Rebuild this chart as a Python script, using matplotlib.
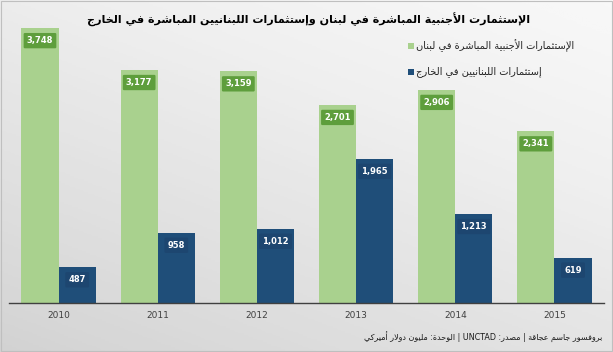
import numpy as np
import matplotlib.pyplot as plt
from matplotlib.patches import Rectangle

# data
years = ["2010", "2011", "2012", "2013", "2014", "2015"]
fdi_in = [3748, 3177, 3159, 2701, 2906, 2341]      # foreign investment into Lebanon
fdi_out = [487, 958, 1012, 1965, 1213, 619]        # Lebanese investment abroad

title_txt = "الإستثمارت الأجنبية المباشرة في لبنان وإستثمارات اللبنانيين المباشرة في الخارج"
legend_in = "الإستثمارات الأجنبية المباشرة في لبنان"
legend_out = "إستثمارات اللبنانيين في الخارج"
footer_txt = "بروفسور جاسم عجاقة | مصدر: UNCTAD | الوحدة: مليون دولار أميركي"

green = "#a9d18e"
green_dark = "#5e9e3c"
blue = "#1f4e79"
blue_dark = "#1d4670"

# --- minimal arabic shaping (matplotlib has no bidi / joining) ---
# char -> (first presentation form, number of forms)
_forms = {
    "ء": (0xFE80, 1), "آ": (0xFE81, 2), "أ": (0xFE83, 2), "ؤ": (0xFE85, 2),
    "إ": (0xFE87, 2), "ئ": (0xFE89, 4), "ا": (0xFE8D, 2), "ب": (0xFE8F, 4),
    "ة": (0xFE93, 2), "ت": (0xFE95, 4), "ث": (0xFE99, 4), "ج": (0xFE9D, 4),
    "ح": (0xFEA1, 4), "خ": (0xFEA5, 4), "د": (0xFEA9, 2), "ذ": (0xFEAB, 2),
    "ر": (0xFEAD, 2), "ز": (0xFEAF, 2), "س": (0xFEB1, 4), "ش": (0xFEB5, 4),
    "ص": (0xFEB9, 4), "ض": (0xFEBD, 4), "ط": (0xFEC1, 4), "ظ": (0xFEC5, 4),
    "ع": (0xFEC9, 4), "غ": (0xFECD, 4), "ف": (0xFED1, 4), "ق": (0xFED5, 4),
    "ك": (0xFED9, 4), "ل": (0xFEDD, 4), "م": (0xFEE1, 4), "ن": (0xFEE5, 4),
    "ه": (0xFEE9, 4), "و": (0xFEED, 2), "ى": (0xFEEF, 2), "ي": (0xFEF1, 4),
}
_lamalef = {"آ": 0xFEF5, "أ": 0xFEF7, "إ": 0xFEF9, "ا": 0xFEFB}


def shape(s):
    # lam-alef ligatures first
    toks = []
    i = 0
    while i < len(s):
        if s[i] == "ل" and i + 1 < len(s) and s[i + 1] in _lamalef:
            toks.append(("LA", s[i + 1]))
            i += 2
        else:
            toks.append(("C", s[i]))
            i += 1

    def nforms(t):
        if t[0] == "LA":
            return 2
        return _forms.get(t[1], (0, 0))[1]

    out = []
    for k, t in enumerate(toks):
        prev_join = k > 0 and nforms(toks[k - 1]) == 4 and nforms(t) > 0
        next_join = (nforms(t) == 4 and k + 1 < len(toks) and nforms(toks[k + 1]) > 0)
        if t[0] == "LA":
            out.append(chr(_lamalef[t[1]] + (1 if prev_join else 0)))
            continue
        c = t[1]
        if c not in _forms:
            out.append(c)
            continue
        base, n = _forms[c]
        if n == 1:
            out.append(chr(base))
        elif n == 2:
            out.append(chr(base + (1 if prev_join else 0)))
        else:
            if prev_join and next_join:
                off = 3
            elif next_join:
                off = 2
            elif prev_join:
                off = 1
            else:
                off = 0
            out.append(chr(base + off))
    # visual order: reverse, keep latin/digit runs left-to-right
    vis = "".join(out)[::-1]
    res, run = [], ""
    for ch in vis:
        if ch.isascii() and ch.isalnum():
            run += ch
        else:
            if run:
                res.append(run[::-1])
                run = ""
            res.append(ch)
    if run:
        res.append(run[::-1])
    return "".join(res)


plt.rcParams["font.family"] = ["DejaVu Sans"]

fig = plt.figure(figsize=(6.13, 3.52), dpi=100)

# background gradient
bg = fig.add_axes([0, 0, 1, 1], zorder=-10)
yy, xx = np.mgrid[0:1:200j, 0:1:300j]
grad = 0.6 * yy + 0.4 * xx
bg.imshow(grad, cmap="Greys_r", vmin=-3.2, vmax=1.25, aspect="auto",
          extent=[0, 1, 0, 1], origin="lower")
bg.set_xlim(0, 1)
bg.set_ylim(0, 1)
bg.axis("off")
bg.add_patch(Rectangle((0.002, 0.003), 0.996, 0.994, fill=False,
                       edgecolor="#bfbfbf", lw=0.8, transform=bg.transAxes))

ax = fig.add_axes([9 / 613, 49 / 352, 595 / 613, 286 / 352])
ax.patch.set_alpha(0)

x = np.arange(len(years))
w = 0.375
b1 = ax.bar(x - w / 2, fdi_in, w, color=green, zorder=2)
b2 = ax.bar(x + w / 2, fdi_out, w, color=blue, zorder=2)

ax.set_xlim(-0.5, len(years) - 0.5)
ax.set_ylim(0, 3900)
ax.set_yticks([])
for sp in ["top", "right", "left"]:
    ax.spines[sp].set_visible(False)
ax.spines["bottom"].set_color("#404040")
ax.spines["bottom"].set_linewidth(1.0)
ax.set_xticks(x)
ax.set_xticklabels(years, fontsize=6.5, color="#404040")
ax.tick_params(axis="x", length=0, pad=6)

for bars, vals, fc in [(b1, fdi_in, green_dark), (b2, fdi_out, blue_dark)]:
    for r, v in zip(bars, vals):
        ax.annotate(f"{v:,}", (r.get_x() + r.get_width() / 2, v),
                    xytext=(0, -9), textcoords="offset points",
                    ha="center", va="center", fontsize=6, fontweight="bold",
                    color="white", zorder=4,
                    bbox=dict(boxstyle="round,pad=0.38,rounding_size=0.15",
                              fc=fc, ec="none"))

# title
fig.text(309 / 613, 1 - 20 / 352, shape(title_txt), ha="center", va="center",
         fontsize=8, fontweight="bold", color="black")

# legend (manual): marker on the left, text to its right
for ypix, txt, col in [(46, legend_in, green), (72, legend_out, blue)]:
    fig.patches.append(Rectangle((408 / 613, 1 - (ypix + 3) / 352), 6 / 613, 6 / 352,
                                 facecolor=col, edgecolor="none",
                                 transform=fig.transFigure, figure=fig))
    fig.text(416 / 613, 1 - ypix / 352, shape(txt), ha="left", va="center",
             fontsize=7.1, color="#262626")

# footer
fig.text(602 / 613, 1 - 337 / 352, shape(footer_txt), ha="right", va="center",
         fontsize=5.8, color="#1a1a1a")

fig.savefig("out.png", dpi=100)
